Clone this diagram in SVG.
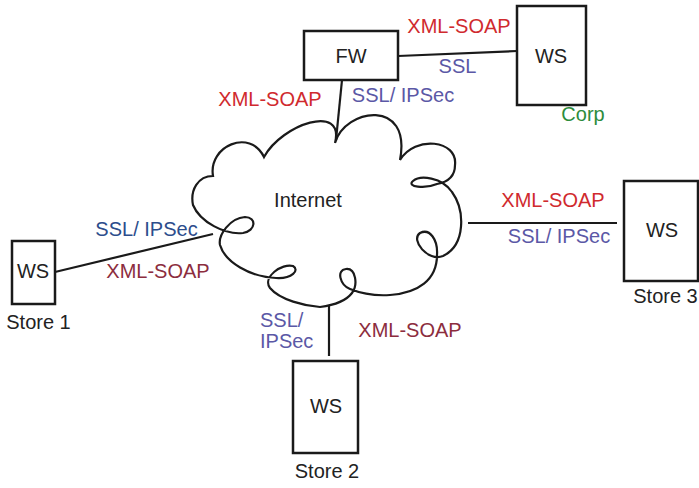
<svg xmlns="http://www.w3.org/2000/svg" width="699" height="488" viewBox="0 0 699 488">
<style>
text{font-family:"Liberation Sans",Arial,Helvetica,sans-serif;font-size:20px;}
.box{fill:#fff;stroke:#1a1a1a;stroke-width:2.5;}
.lbl{fill:#222;text-anchor:middle;}
.red{fill:#d02a2e;}
.mar{fill:#8c2d3e;}
.pur{fill:#5b58a6;}
.blu{fill:#2c4d8c;}
.grn{fill:#2d8c3c;}
.mid{text-anchor:middle;}
.ln{stroke:#1a1a1a;stroke-width:2.2;fill:none;}
</style>
<rect width="699" height="488" fill="#fff"/>
<g id="connectors">
<line class="ln" x1="398" y1="56" x2="517" y2="51"/>
<line class="ln" x1="342" y1="80" x2="336" y2="140"/>
<line class="ln" x1="55" y1="272" x2="213" y2="234"/>
<line class="ln" x1="468" y1="223" x2="617" y2="223"/>
<line class="ln" x1="329" y1="305" x2="329" y2="356"/>
</g>
<g id="internet">
<path class="ln" stroke-width="2.5" d="M193,205 C190,190 198,176 213,176 C208,146 250,128 264,157 C282,124 345,103 335,143 C345,108 412,98 400,160 C415,135 458,140 455,165 C455,176 448,182 437,184 C425,189 406,187 413,181 C420,175 442,177 452,192 C465,210 466,245 443,256 C428,262 410,240 420,233 C430,228 438,240 437,255 C437,280 418,293 390,295 C375,296 360,293 350,289 C340,285 336,270 346,269 C356,268 358,285 352,293 C346,301 335,305 320,307 C305,306 280,300 270,288 C262,277 282,263 293,266 C300,270 292,279 276,278 C250,277 225,262 220,245 C218,235 230,218 245,217 C257,217 256,231 243,233 C225,235 200,222 193,205 Z"/>
<text class="lbl" x="308" y="207">Internet</text>
</g>
<g id="fw">
<rect class="box" x="304" y="31" width="94" height="49"/>
<text class="lbl" x="351" y="63">FW</text>
</g>
<g id="ws-corp">
<rect class="box" x="517" y="6" width="69" height="99"/>
<text class="lbl" x="551" y="63">WS</text>
<text class="grn mid" x="583" y="121">Corp</text>
</g>
<g id="ws-store1">
<rect class="box" x="12" y="241" width="43" height="63"/>
<text class="lbl" x="33" y="278">WS</text>
<text class="lbl" x="38.5" y="329">Store 1</text>
</g>
<g id="ws-store2">
<rect class="box" x="293" y="361" width="65" height="92"/>
<text class="lbl" x="326" y="413">WS</text>
<text class="lbl" x="327" y="478">Store 2</text>
</g>
<g id="ws-store3">
<rect class="box" x="624" y="181" width="74" height="100"/>
<text class="lbl" x="662" y="237">WS</text>
<text class="lbl" x="665.5" y="303">Store 3</text>
</g>
<g id="labels">
<text class="red mid" x="459" y="33">XML-SOAP</text>
<text class="pur mid" x="457.5" y="73">SSL</text>
<text class="red mid" x="270" y="106">XML-SOAP</text>
<text class="pur mid" x="403" y="102">SSL/ IPSec</text>
<text class="blu mid" x="146.5" y="236">SSL/ IPSec</text>
<text class="mar mid" x="158" y="278">XML-SOAP</text>
<text class="pur" x="260" y="327">SSL/</text>
<text class="pur" x="260" y="348">IPSec</text>
<text class="mar mid" x="410" y="337">XML-SOAP</text>
<text class="red mid" x="553" y="207">XML-SOAP</text>
<text class="pur mid" x="559" y="243">SSL/ IPSec</text>
</g>
</svg>
